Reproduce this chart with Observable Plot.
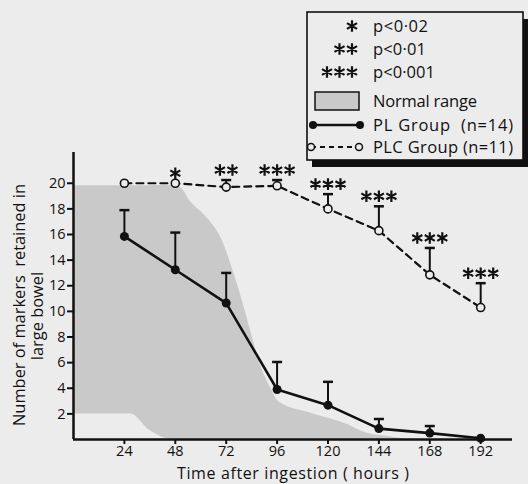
<!DOCTYPE html>
<html>
<head>
<meta charset="utf-8">
<script src="https://cdn.jsdelivr.net/npm/d3@7"></script>
<script src="https://cdn.jsdelivr.net/npm/@observablehq/plot@0.6"></script>
<style>
  html, body { margin: 0; padding: 0; background: #ececec; }
  #chart { width: 528px; height: 484px; position: relative; }
  g[aria-label^="x-axis"] line, g[aria-label^="x-axis"] path,
  g[aria-label^="y-axis"] line, g[aria-label^="y-axis"] path { stroke-width: 2px; }
</style>
</head>
<body>
<div id="chart"></div>
<script>
// ---- data ----
const hours = [24, 48, 72, 96, 120, 144, 168, 192];
const plMean = [15.85, 13.25, 10.65, 3.9, 2.68, 0.85, 0.5, 0.1];
const plTop = [17.9, 16.15, 13.0, 6.05, 4.5, 1.6, 1.05, null];
const plcMean = [20, 20, 19.7, 19.8, 18.0, 16.3, 12.85, 10.3];
const plcTop = [null, null, 20.25, 20.25, 19.15, 18.2, 14.95, 12.2];
const plcStars = [0, 1, 2, 3, 3, 3, 3, 3];
const normalHours = [0, 27, 36, 47, 51, 55, 60, 65, 70, 75, 80, 84, 88, 93, 97, 113, 129, 138, 150, 158];
const normalUpper = [19.8, 19.8, 19.8, 19.85, 19.6, 18.6, 17.8, 16.9, 15.6, 13.3, 10.6, 8.2, 5.9, 4.0, 2.9, 2.0, 1.2, 0.5, 0.2, 0];
const normalLower = [2, 2, 0.7, 0, 0, 0, 0, 0, 0, 0, 0, 0, 0, 0, 0, 0, 0, 0, 0, 0];
const xTicks = [24, 48, 72, 96, 120, 144, 168, 192];
const yTicks = [2, 4, 6, 8, 10, 12, 14, 16, 18, 20];
const xLabel = "Time after ingestion ( hours )";
const yLabel1 = "Number of markers  retained in";
const yLabel2 = "large bowel";
const legendStars = ["p<0·02", "p<0·01", "p<0·001"];
const legendNormal = "Normal range";
const legendPL = "PL Group  (n=14)";
const legendPLC = "PLC Group (n=11)";

// ---- tables ----
const pl = hours.map((h, i) => ({hour: h, mean: plMean[i], top: plTop[i]}));
const plc = hours.map((h, i) => ({hour: h, mean: plcMean[i], top: plcTop[i], stars: plcStars[i]}));
const normal = normalHours.map((h, i) => ({hour: h, lo: normalLower[i], hi: normalUpper[i]}));

const INK = "#111";
const BG = "#ececec";
const SHADE = "#c9c9c9";
const FONT = "Open Sans";

const hbar = {draw(ctx, size) { const w = Math.sqrt(size / Math.PI); ctx.moveTo(-w, 0); ctx.lineTo(w, 0); }};
function drawStars(ctx, n, a, gap, cx0) {
  for (let k = 0; k < n; k++) {
    const cx = cx0 + (k - (n - 1) / 2) * gap;
    ctx.moveTo(cx, -a); ctx.lineTo(cx, a);
    const dx = a * Math.cos(Math.PI / 6), dy = a * Math.sin(Math.PI / 6);
    ctx.moveTo(cx - dx, -dy); ctx.lineTo(cx + dx, dy);
    ctx.moveTo(cx - dx, dy); ctx.lineTo(cx + dx, -dy);
  }
}
const starSym = n => ({draw(ctx, size) { drawStars(ctx, n, Math.sqrt(size / Math.PI), 12.5, 0); }});

const starMarks = [1, 2, 3].map(n => Plot.dot(plc.filter(d => d.stars === n), {
  x: "hour", y: d => d.top ?? d.mean, dy: -10, symbol: starSym(n), r: 5.8,
  stroke: INK, strokeWidth: 2.2, fill: "none"
}));

const chart = Plot.plot({
  width: 528, height: 484,
  marginLeft: 73, marginRight: 16, marginTop: 152, marginBottom: 45,
  style: {background: "transparent", fontFamily: FONT, fontSize: "14.5px", color: INK},
  x: {domain: [0, 207], ticks: xTicks, tickSize: 5, tickPadding: 1, label: null},
  y: {domain: [0, 22.4], ticks: yTicks, tickSize: 6, tickPadding: 2, label: null},
  marks: [
    Plot.areaY(normal, {x: "hour", y1: "lo", y2: "hi", fill: SHADE, curve: "monotone-x"}),
    Plot.ruleX([0], {stroke: INK, strokeWidth: 2.5}),
    Plot.ruleY([0], {stroke: INK, strokeWidth: 2.5}),
    // PL group
    Plot.ruleX(pl.filter(d => d.top != null), {x: "hour", y1: "mean", y2: "top", stroke: INK, strokeWidth: 2}),
    Plot.dot(pl.filter(d => d.top != null), {x: "hour", y: "top", symbol: hbar, r: 5, stroke: INK, strokeWidth: 2.5}),
    Plot.line(pl, {x: "hour", y: "mean", stroke: INK, strokeWidth: 2.6}),
    Plot.dot(pl, {x: "hour", y: "mean", r: 4.5, fill: INK}),
    // PLC group
    Plot.ruleX(plc.filter(d => d.top != null), {x: "hour", y1: "mean", y2: "top", stroke: INK, strokeWidth: 2}),
    Plot.dot(plc.filter(d => d.top != null), {x: "hour", y: "top", symbol: hbar, r: 5, stroke: INK, strokeWidth: 2.5}),
    Plot.line(plc, {x: "hour", y: "mean", stroke: INK, strokeWidth: 2.2, strokeDasharray: "7,5"}),
    Plot.dot(plc, {x: "hour", y: "mean", r: 4, fill: BG, stroke: INK, strokeWidth: 1.6}),
    ...starMarks,
    // axis titles
    Plot.text([xLabel], {frameAnchor: "bottom", textAnchor: "middle", dy: 34.5, lineAnchor: "middle", fontSize: 16, fill: INK}),
    Plot.text([yLabel1], {frameAnchor: "left", textAnchor: "middle", dx: -54, dy: 9, rotate: -90, lineAnchor: "middle", fontSize: 16.4, fill: INK}),
    Plot.text([yLabel2], {frameAnchor: "left", textAnchor: "middle", dx: -36, dy: 20, rotate: -90, lineAnchor: "middle", fontSize: 16.4, fill: INK})
  ]
});
document.getElementById("chart").appendChild(chart);

const svg = d3.select(chart);
// stretch the x title to the reference's width
svg.selectAll("text").filter(function() { return this.textContent === xLabel; })
  .attr("textLength", 232).attr("lengthAdjust", "spacing");

// ---- legend box ----
const lg = svg.append("g").attr("font-family", FONT).attr("font-size", 16.5).attr("fill", INK).attr("text-anchor", "start");
lg.append("rect").attr("x", 312).attr("y", 19).attr("width", 216).attr("height", 148).attr("fill", INK);
lg.append("rect").attr("x", 307).attr("y", 12).attr("width", 216).attr("height", 148)
  .attr("fill", BG).attr("stroke", INK).attr("stroke-width", 1.6);
const rowY = [26, 49, 72, 101, 125, 147];
const rowLen = [55, 53, 62, 104, 140, 140];
function legendText(i, t) {
  lg.append("text").attr("x", 373).attr("y", rowY[i]).attr("dy", "0.35em")
    .attr("textLength", rowLen[i]).attr("lengthAdjust", "spacing").style("white-space", "pre").text(t);
}
legendStars.forEach((t, i) => {
  const n = i + 1;
  const p = d3.path();
  drawStars(p, n, 5.8, 12.5, 352 - (n - 1) * 12.5 / 2);
  lg.append("path").attr("d", p.toString()).attr("transform", `translate(0,${rowY[i]})`)
    .attr("stroke", INK).attr("stroke-width", 2.2).attr("fill", "none");
  legendText(i, t);
});
lg.append("rect").attr("x", 315).attr("y", 92).attr("width", 44).attr("height", 18)
  .attr("fill", SHADE).attr("stroke", INK).attr("stroke-width", 1.5);
legendText(3, legendNormal);
lg.append("line").attr("x1", 313).attr("x2", 360).attr("y1", rowY[4]).attr("y2", rowY[4]).attr("stroke", INK).attr("stroke-width", 2.6);
[313, 360].forEach(x => lg.append("circle").attr("cx", x).attr("cy", rowY[4]).attr("r", 4).attr("fill", INK));
legendText(4, legendPL);
lg.append("line").attr("x1", 311).attr("x2", 359).attr("y1", rowY[5]).attr("y2", rowY[5]).attr("stroke", INK).attr("stroke-width", 2).attr("stroke-dasharray", "5,4");
[311, 359].forEach(x => lg.append("circle").attr("cx", x).attr("cy", rowY[5]).attr("r", 3.5).attr("fill", BG).attr("stroke", INK).attr("stroke-width", 1.5));
legendText(5, legendPLC);
</script>
</body>
</html>
